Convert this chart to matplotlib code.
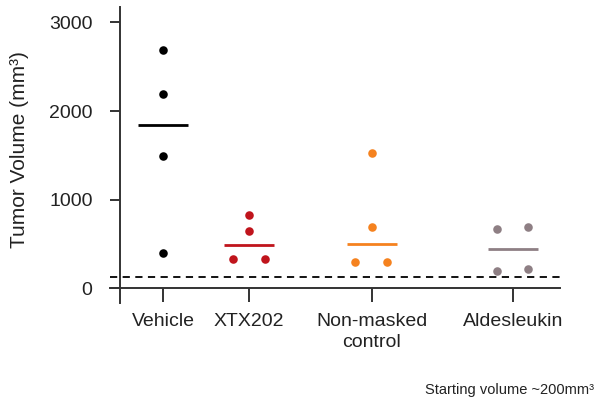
import matplotlib
matplotlib.use("Agg")
import matplotlib.pyplot as plt
import numpy as np

plt.rcParams['font.family'] = ['Liberation Sans', 'DejaVu Sans']

# data
groups = ["Vehicle", "XTX202", "Non-masked\ncontrol", "Aldesleukin"]
vehicle = [2690, 2190, 1490, 400]
xtx202 = [823, 646, 335, 338]
non_masked = [1525, 688, 297, 304]
aldesleukin = [676, 688, 200, 225]
start_volume = 130

# layout (x position of each group, horizontal jitter of points)
xpos = [1.0, 2.0, 3.43, 5.07]
jitter = [
    [0, 0, 0, 0],
    [0, 0, -0.19, 0.19],
    [0, 0, -0.2, 0.18],
    [-0.18, 0.18, -0.18, 0.18],
]
colors = ["#000000", "#C0141C", "#F5821F", "#8E7F84"]
values = [vehicle, xtx202, non_masked, aldesleukin]

fig = plt.figure(figsize=(5.95, 4.03), dpi=100)
ax = fig.add_axes([110 / 595, 1 - 302.5 / 403, 450 / 595, 295.2 / 403])

for x, vals, jit, c in zip(xpos, values, jitter, colors):
    xs = x + np.array(jit)
    ax.scatter(xs, vals, s=38, color=c, zorder=3, linewidths=0)
    med = np.median(vals)
    ax.plot([x - 0.29, x + 0.29], [med, med], color=c, lw=2.0, solid_capstyle='butt', zorder=2)

ax.axhline(start_volume, color="black", lw=1.3, ls=(0, (4, 3)), zorder=1)

ax.set_xlim(0.38, 5.62)
ax.set_ylim(-158, 3170)

for s in ["top", "right"]:
    ax.spines[s].set_visible(False)
ax.spines["left"].set_position(("data", 0.5))
ax.spines["bottom"].set_position(("data", 0))
for s in ["left", "bottom"]:
    ax.spines[s].set_color("#333333")
    ax.spines[s].set_linewidth(1.4)

ax.set_yticks([0, 1000, 2000, 3000])
ax.set_xticks(xpos)
ax.set_xticklabels(groups, linespacing=1.3)
ax.tick_params(axis="y", length=7, width=1.4, color="#333333", labelsize=14, pad=13, labelcolor="#222222")
ax.tick_params(axis="x", length=10, width=1.4, color="#333333", labelsize=14, pad=8, labelcolor="#222222")

fig.text(20 / 595, 1 - 150 / 403, "Tumor Volume (mm³)", rotation=90, fontsize=15,
         ha="center", va="center", color="#222222")
fig.text(594 / 595, 1 - 390 / 403, "Starting volume ~200mm³", fontsize=10.5,
         ha="right", va="center", color="#222222")

fig.savefig("out.png", dpi=100)
